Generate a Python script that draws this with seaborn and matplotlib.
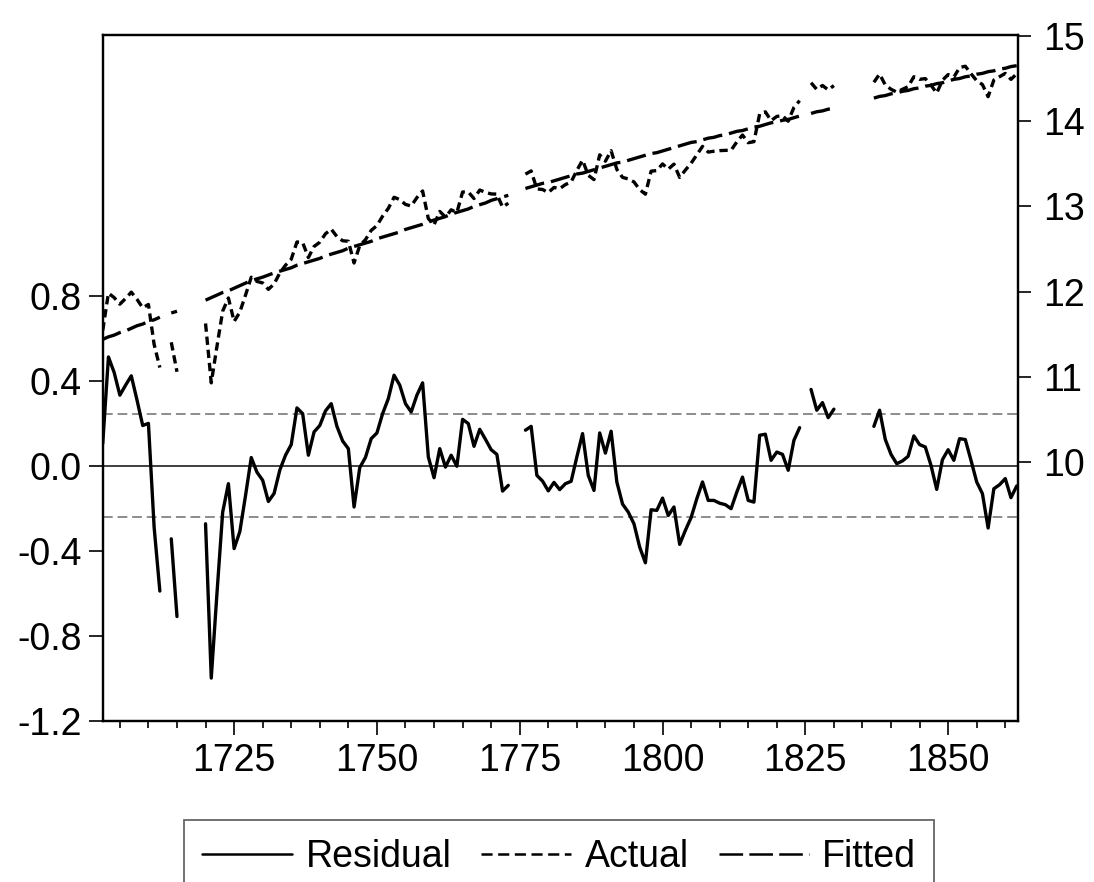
import numpy as np
import pandas as pd
import matplotlib
matplotlib.use('Agg')
import matplotlib.pyplot as plt
from matplotlib.lines import Line2D
from matplotlib.ticker import MultipleLocator
import seaborn as sns

nan = np.nan

# years 1702..1862 (annual)
years = list(range(1702, 1863))

residual = [
    0.105, 0.513, 0.44, 0.333, 0.38, 0.424, 0.31, 0.19, 0.20, -0.29,      # 1702-1711
    -0.59, nan, -0.344, -0.71, nan, nan, nan, nan, -0.273, -1.00,        # 1712-1721
    -0.60, -0.218, -0.084, -0.39, -0.31, -0.14, 0.039, -0.03, -0.068, -0.168,  # 1722-1731
    -0.13, -0.02, 0.05, 0.10, 0.273, 0.246, 0.05, 0.16, 0.19, 0.259,     # 1732-1741
    0.293, 0.186, 0.117, 0.081, -0.194, -0.008, 0.04, 0.128, 0.155, 0.246,  # 1742-1751
    0.317, 0.427, 0.38, 0.293, 0.254, 0.333, 0.391, 0.042, -0.056, 0.081,  # 1752-1761
    -0.006, 0.05, -0.002, 0.219, 0.199, 0.092, 0.172, 0.125, 0.076, 0.054,  # 1762-1771
    -0.119, -0.092, nan, nan, 0.168, 0.186, -0.045, -0.072, -0.118, -0.078,  # 1772-1781
    -0.112, -0.084, -0.073, 0.042, 0.152, -0.045, -0.116, 0.155, 0.06, 0.163,  # 1782-1791
    -0.076, -0.18, -0.218, -0.273, -0.383, -0.457, -0.207, -0.21, -0.152, -0.234,  # 1792-1801
    -0.194, -0.37, -0.304, -0.244, -0.155, -0.076, -0.163, -0.163, -0.176, -0.183,  # 1802-1811
    -0.202, -0.124, -0.053, -0.163, -0.171, 0.144, 0.149, 0.026, 0.065, 0.054,  # 1812-1821
    -0.021, 0.12, 0.18, nan, 0.36, 0.262, 0.298, 0.227, 0.267, nan,      # 1822-1831
    nan, nan, nan, nan, nan, 0.186, 0.262, 0.124, 0.054, 0.01,           # 1832-1841
    0.023, 0.045, 0.141, 0.10, 0.089, 0.002, -0.111, 0.029, 0.076, 0.026,  # 1842-1851
    0.128, 0.124, 0.026, -0.076, -0.131, -0.293, -0.108, -0.089, -0.06, -0.15,  # 1852-1861
    -0.095,                                                              # 1862
]

fitted = [
    11.44, 11.47, 11.49, 11.52, 11.54, 11.57, 11.60, 11.62, 11.65, 11.67,   # 1702-1711
    11.70, nan, 11.75, 11.77, nan, nan, nan, nan, 11.90, 11.93,            # 1712-1721
    11.96, 11.99, 12.01, 12.04, 12.07, 12.10, 12.13, 12.15, 12.17, 12.195,  # 1722-1731
    12.22, 12.24, 12.26, 12.28, 12.31, 12.33, 12.35, 12.37, 12.39, 12.42,   # 1732-1741
    12.44, 12.46, 12.48, 12.51, 12.53, 12.55, 12.57, 12.59, 12.62, 12.64,   # 1742-1751
    12.66, 12.68, 12.70, 12.73, 12.75, 12.77, 12.79, 12.815, 12.84, 12.86,  # 1752-1761
    12.88, 12.91, 12.93, 12.95, 12.97, 13.00, 13.02, 13.04, 13.07, 13.09,   # 1762-1771
    13.11, 13.13, nan, nan, 13.21, 13.23, 13.25, 13.27, 13.28, 13.30,       # 1772-1781
    13.32, 13.34, 13.36, 13.38, 13.39, 13.41, 13.43, 13.45, 13.47, 13.49,   # 1782-1791
    13.51, 13.52, 13.54, 13.56, 13.58, 13.60, 13.62, 13.63, 13.65, 13.67,   # 1792-1801
    13.69, 13.71, 13.73, 13.75, 13.76, 13.78, 13.80, 13.81, 13.83, 13.84,   # 1802-1811
    13.86, 13.88, 13.89, 13.91, 13.93, 13.94, 13.96, 13.98, 13.99, 14.01,   # 1812-1821
    14.02, 14.04, 14.06, nan, 14.09, 14.11, 14.12, 14.14, 14.15, nan,       # 1822-1831
    nan, nan, nan, nan, nan, 14.27, 14.29, 14.30, 14.32, 14.33,            # 1832-1841
    14.35, 14.36, 14.38, 14.39, 14.41, 14.42, 14.44, 14.45, 14.47, 14.49,   # 1842-1851
    14.50, 14.52, 14.53, 14.55, 14.56, 14.58, 14.59, 14.61, 14.62, 14.64,   # 1852-1861
    14.65,                                                                 # 1862
]

resid_sd = 0.243

df = pd.DataFrame({'year': years, 'Residual': residual, 'Fitted': fitted})
df['Actual'] = df['Fitted'] + df['Residual']
# break lines at missing observations
df['seg'] = df['Residual'].isna().cumsum()
df = df.dropna()

sns.set_style('white')
plt.rcParams['font.family'] = ['Liberation Sans', 'DejaVu Sans']
plt.rcParams['axes.unicode_minus'] = False
plt.rcParams['lines.scale_dashes'] = False
for k in ('text.color', 'axes.labelcolor', 'xtick.color', 'ytick.color'):
    plt.rcParams[k] = 'black'

fig = plt.figure(figsize=(10.94, 8.82), dpi=100)
ax = fig.add_axes([0.0939, 0.1831, 0.8370, 0.7772])
ax2 = ax.twinx()

# residual (left axis)
ax.axhline(0, color='#404040', linewidth=1.4, zorder=1)
for v in (resid_sd, -resid_sd):
    ax.axhline(v, color='#8c8c8c', linewidth=1.4, linestyle=(0, (7, 3.5)), zorder=1)
sns.lineplot(data=df, x='year', y='Residual', units='seg', estimator=None,
             color='black', linewidth=2.4, ax=ax, legend=False)

# actual / fitted (right axis)
sns.lineplot(data=df, x='year', y='Actual', units='seg', estimator=None,
             color='black', linewidth=2.4, linestyle=(0, (6, 3.5)), ax=ax2, legend=False)
sns.lineplot(data=df, x='year', y='Fitted', units='seg', estimator=None,
             color='black', linewidth=2.4, linestyle=(0, (14, 5)), ax=ax2, legend=False)

ax.set_xlim(1702, 1862.3)
ax.set_ylim(-1.2, 2.03)
ax2.set_ylim(6.97, 15.01)

lticks = [-1.2, -0.8, -0.4, 0.0, 0.4, 0.8]
ax.set_yticks(lticks)
ax.set_yticklabels([f'{t:.1f}' for t in lticks])
ax2.set_yticks([10, 11, 12, 13, 14, 15])
ax.xaxis.set_major_locator(MultipleLocator(25))
ax.xaxis.set_minor_locator(MultipleLocator(5))
ax.set_xlabel('')
ax.set_ylabel('')
ax2.set_ylabel('')

ax.tick_params(axis='x', which='major', direction='out', length=10, width=1.2,
               labelsize=27, pad=6, bottom=True)
ax.tick_params(axis='x', which='minor', direction='out', length=5, width=1.2, bottom=True)
ax.tick_params(axis='y', direction='out', length=10, width=1.2, labelsize=27, pad=5, left=True)
ax2.tick_params(axis='y', direction='out', length=9, width=1.2, labelsize=27, pad=9, right=True)

for a in (ax, ax2):
    for s in a.spines.values():
        s.set_color('black')
        s.set_linewidth(1.6)

handles = [
    Line2D([], [], color='black', linewidth=1.8),
    Line2D([], [], color='black', linewidth=1.8, linestyle=(0, (8, 4))),
    Line2D([], [], color='black', linewidth=1.8, linestyle=(0, (17, 4.5))),
]
leg = fig.legend(handles, ['Residual', 'Actual', 'Fitted'], loc='upper center',
                 bbox_to_anchor=(0.511, 1 - 820 / 882), ncol=3, fontsize=27,
                 frameon=True, fancybox=False, edgecolor='#404040',
                 handlelength=2.4, handletextpad=0.35, columnspacing=0.8,
                 borderpad=0.5, borderaxespad=0)
leg.get_frame().set_linewidth(1.3)

fig.savefig('out.png', dpi=100)
